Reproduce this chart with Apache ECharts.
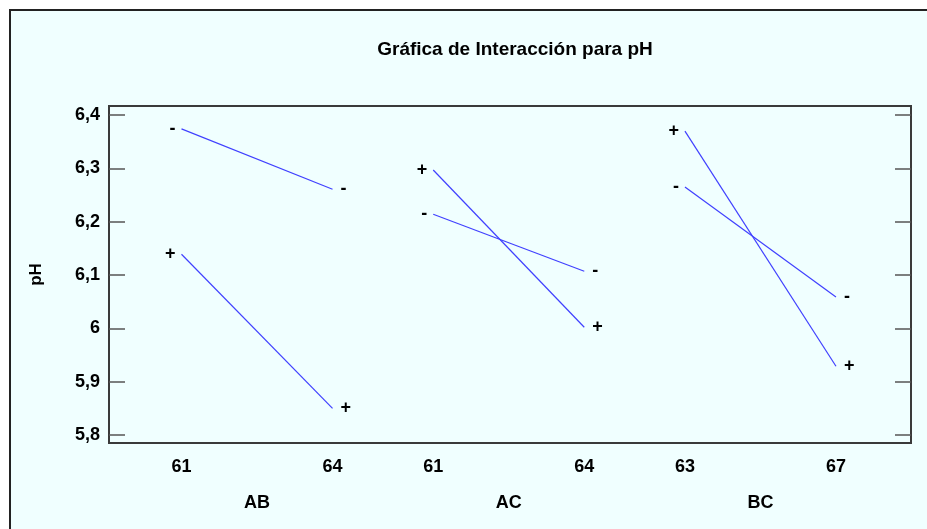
<!DOCTYPE html>
<html>
<head>
<meta charset="utf-8">
<title>Gráfica de Interacción para pH</title>
<script src="https://cdn.jsdelivr.net/npm/echarts@6/dist/echarts.min.js"></script>
<style>
  html, body { margin: 0; padding: 0; background: #ffffff; }
  #chart { width: 927px; height: 529px; }
</style>
</head>
<body>
<div id="chart"></div>
<script>
// Factor pairs and the levels of the first factor in each pair
const pairNames = ['AB', 'AC', 'BC'];
const pairLevels = [['61', '64'], ['61', '64'], ['63', '67']];

// Mean pH at the low / high level of the first factor,
// with the second factor at its low (-) and high (+) level
const abMinus = [6.374, 6.261];
const abPlus  = [6.139, 5.850];
const acMinus = [6.214, 6.107];
const acPlus  = [6.297, 6.002];
const bcMinus = [6.265, 6.059];
const bcPlus  = [6.370, 5.929];

const yTicks = [5.8, 5.9, 6.0, 6.1, 6.2, 6.3, 6.4];

const lines = [
  { pair: 0, sign: '-', values: abMinus },
  { pair: 0, sign: '+', values: abPlus },
  { pair: 1, sign: '-', values: acMinus },
  { pair: 1, sign: '+', values: acPlus },
  { pair: 2, sign: '-', values: bcMinus },
  { pair: 2, sign: '+', values: bcPlus }
];

// Horizontal layout: each pair occupies a block, levels at 0 and 1 inside it
const blockStep = 5 / 3;
const xOf = (pair, level) => pair * blockStep + level;

const levelPos = [];
const levelText = {};
pairLevels.forEach((lv, p) => lv.forEach((t, l) => {
  const x = xOf(p, l);
  levelPos.push(x);
  levelText[Math.round(x * 1000)] = t;
}));
const pairPos = pairNames.map((_, p) => xOf(p, 0.5));
const pairText = {};
pairNames.forEach((n, p) => { pairText[Math.round(pairPos[p] * 1000)] = n; });

const FONT = 'Liberation Sans, Arial, sans-serif';
const lineColor = '#4040ff';

const series = lines.map(ln => ({
  type: 'line',
  xAxisIndex: 0,
  yAxisIndex: 0,
  symbol: 'circle',
  symbolSize: 0,
  showSymbol: true,
  silent: true,
  animation: false,
  lineStyle: { color: lineColor, width: 1.2 },
  itemStyle: { color: lineColor },
  data: ln.values.map((v, l) => ({
    value: [xOf(ln.pair, l), v],
    label: {
      show: true,
      position: l === 0 ? 'left' : 'right',
      distance: l === 0 ? 6 : 8,
      formatter: ln.sign,
      color: '#000',
      fontFamily: FONT,
      fontWeight: 'bold',
      fontSize: 18
    }
  }))
}));

const xMin = -0.48, xMax = 4.83;
const yMin = 5.785, yMax = 6.417;

const chart = echarts.init(document.getElementById('chart'), null, { renderer: 'canvas' });
chart.setOption({
  backgroundColor: '#ffffff',
  animation: false,
  graphic: [{
    type: 'rect',
    z: -10,
    silent: true,
    shape: { x: 10, y: 10, width: 940, height: 540 },
    style: { fill: '#f0ffff', stroke: '#222', lineWidth: 2 }
  }],
  title: {
    text: 'Gráfica de Interacción para pH',
    left: 510,
    top: 35,
    textAlign: 'center',
    textStyle: { fontFamily: FONT, fontWeight: 'bold', fontSize: 19, color: '#000' }
  },
  grid: {
    left: 109, top: 106, right: 16, bottom: 86,
    show: true, borderColor: '#3a3a3a', borderWidth: 2,
    backgroundColor: 'transparent'
  },
  xAxis: [{
    type: 'value',
    min: xMin, max: xMax,
    position: 'bottom',
    axisLine: { show: false, onZero: false },
    axisTick: { show: false },
    splitLine: { show: false },
    axisLabel: {
      customValues: levelPos,
      margin: 15,
      formatter: v => levelText[Math.round(v * 1000)] || '',
      fontFamily: FONT, fontWeight: 'bold', fontSize: 18, color: '#000'
    }
  }, {
    type: 'value',
    min: xMin, max: xMax,
    position: 'bottom',
    offset: 36,
    axisLine: { show: false, onZero: false },
    axisTick: { show: false },
    splitLine: { show: false },
    axisLabel: {
      customValues: pairPos,
      margin: 15,
      formatter: v => pairText[Math.round(v * 1000)] || '',
      fontFamily: FONT, fontWeight: 'bold', fontSize: 18, color: '#000'
    }
  }],
  yAxis: [{
    type: 'value',
    min: yMin, max: yMax,
    position: 'left',
    name: 'pH',
    nameLocation: 'middle',
    nameGap: 64,
    nameRotate: 90,
    nameTextStyle: { fontFamily: FONT, fontWeight: 'bold', fontSize: 17, color: '#000' },
    axisLine: { show: false, onZero: false },
    splitLine: { show: false },
    axisTick: {
      show: true, inside: true, length: 16,
      customValues: yTicks,
      lineStyle: { color: '#555', width: 1.5 }
    },
    axisLabel: {
      customValues: yTicks,
      margin: 9,
      formatter: v => String(Math.round(v * 10) / 10).replace('.', ','),
      fontFamily: FONT, fontWeight: 'bold', fontSize: 18, color: '#000'
    }
  }, {
    type: 'value',
    min: yMin, max: yMax,
    position: 'right',
    axisLine: { show: false, onZero: false },
    splitLine: { show: false },
    axisTick: {
      show: true, inside: true, length: 16,
      customValues: yTicks,
      lineStyle: { color: '#555', width: 1.5 }
    },
    axisLabel: { show: false }
  }],
  series: series
});
</script>
</body>
</html>
